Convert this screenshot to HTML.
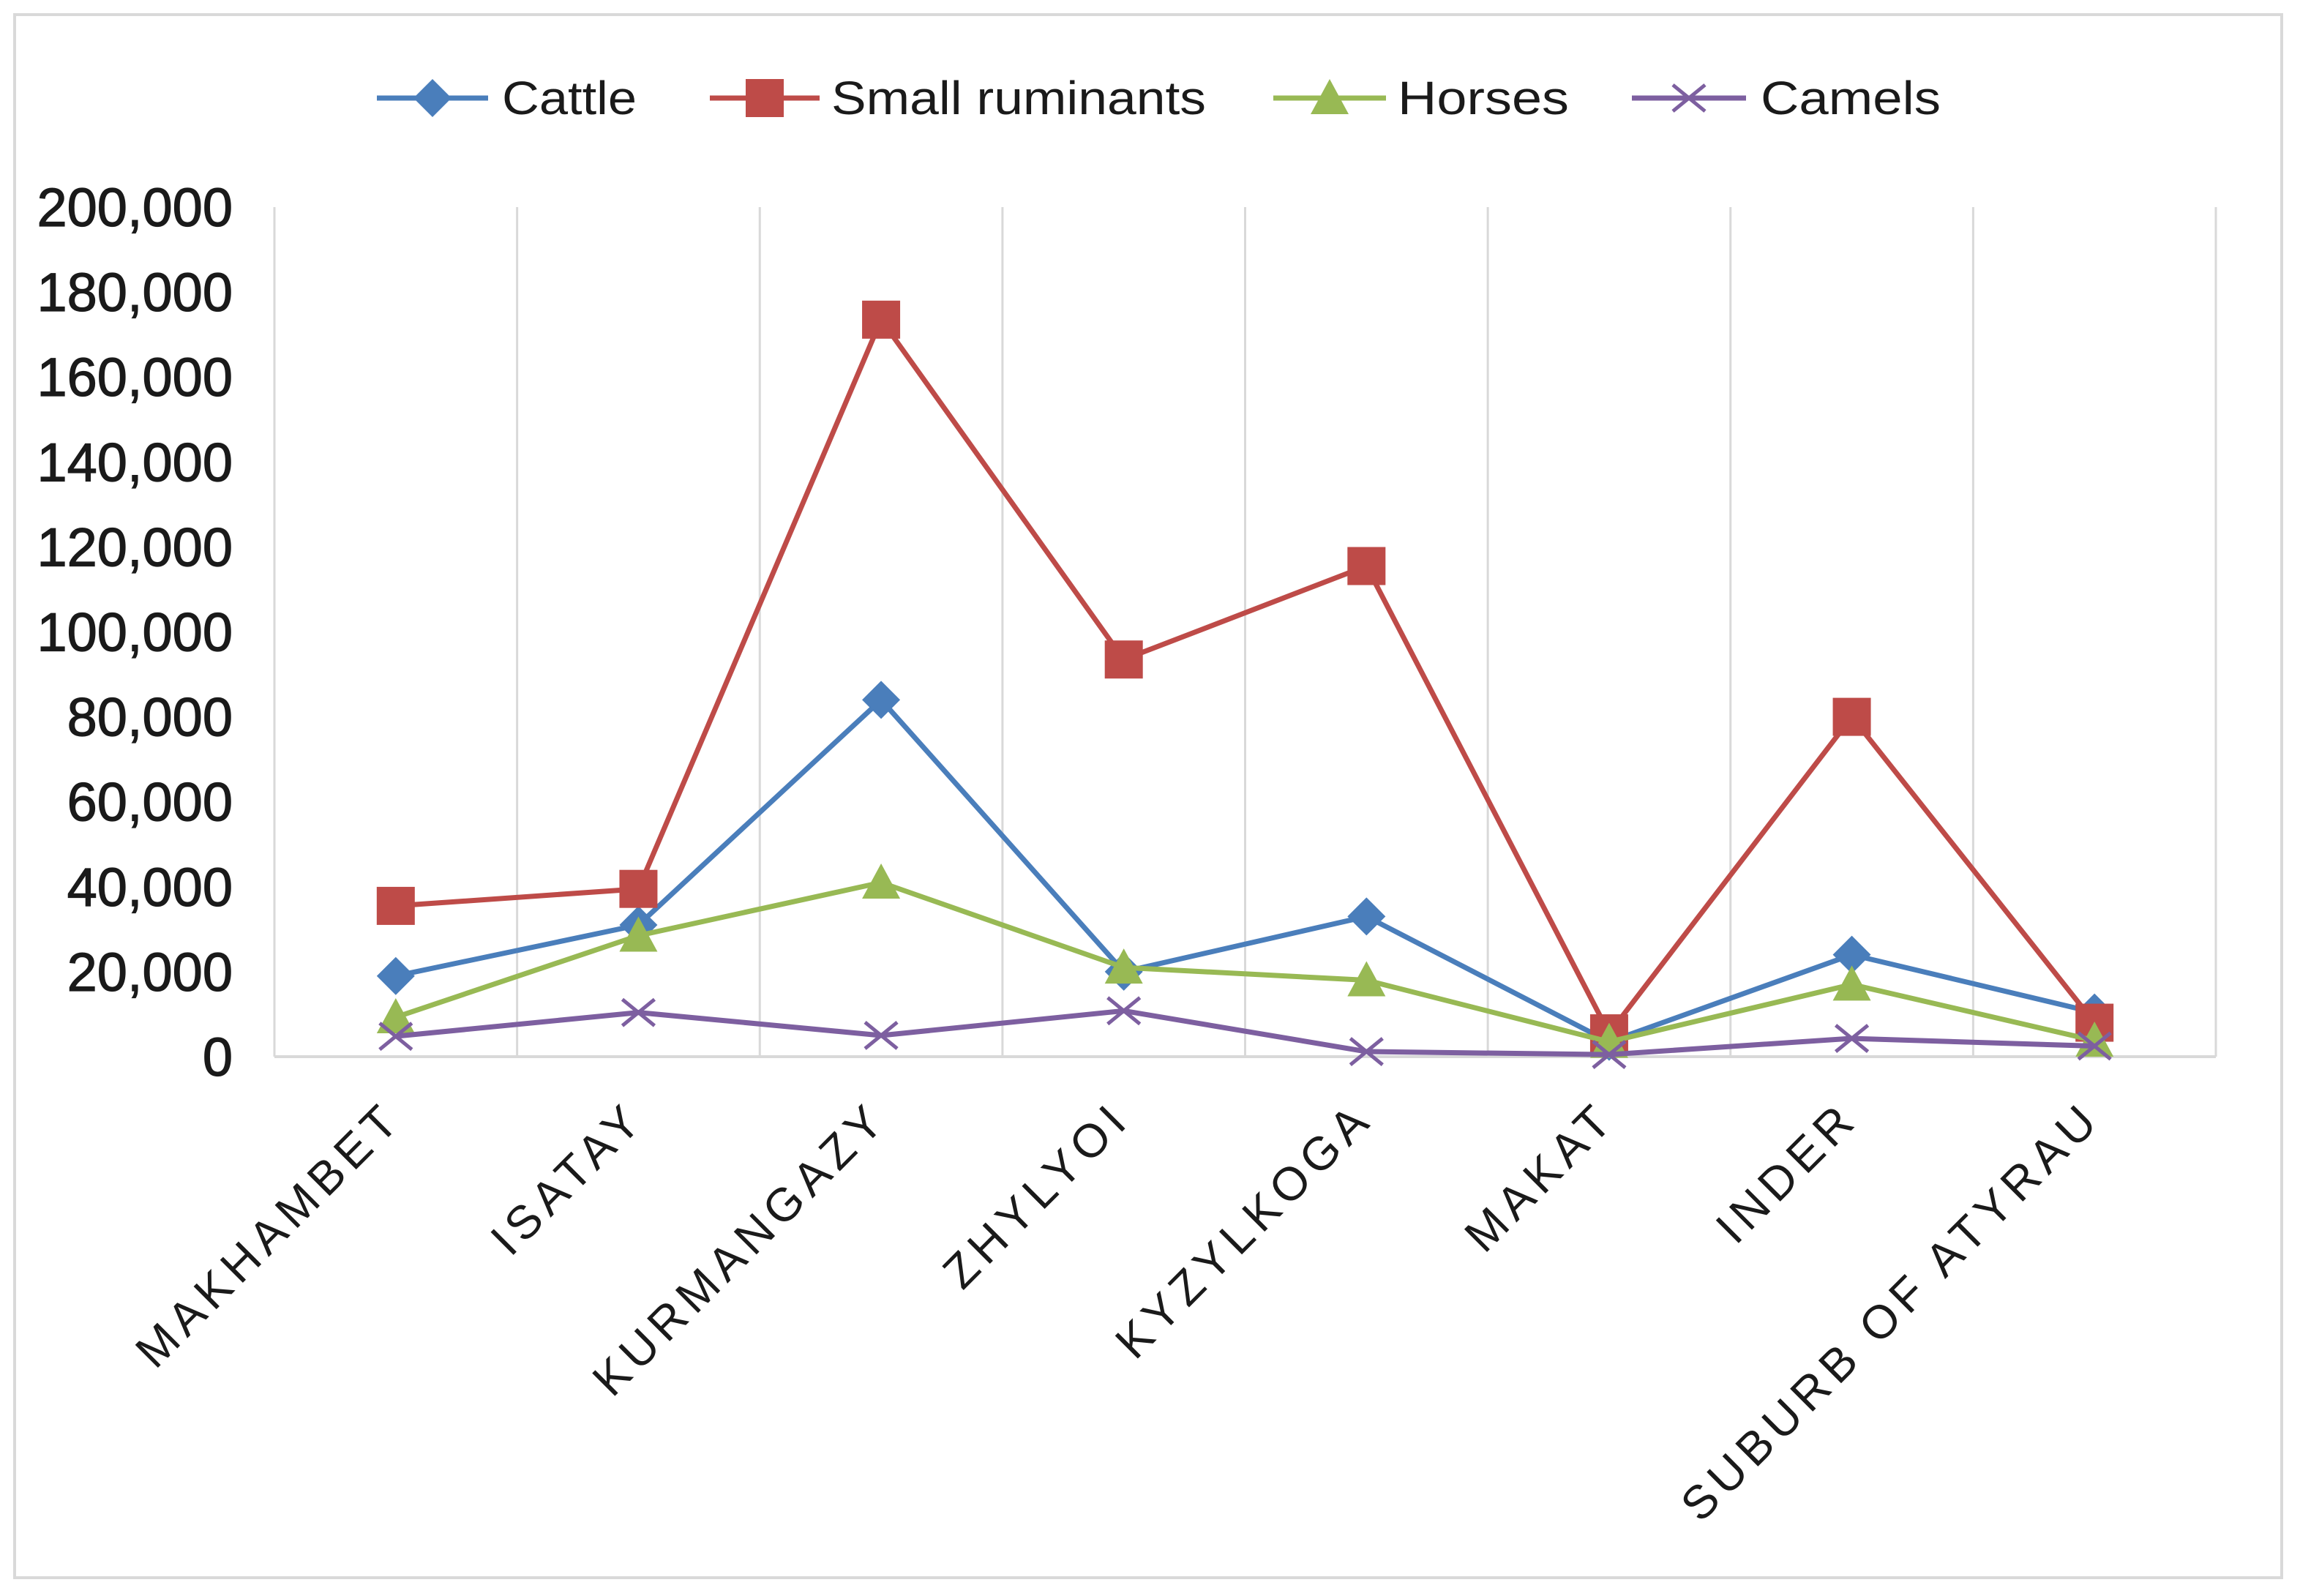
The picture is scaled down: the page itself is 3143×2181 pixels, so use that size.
<!DOCTYPE html>
<html><head><meta charset="utf-8"><style>
html,body{margin:0;padding:0;background:#fff;}
svg{display:block;font-family:"Liberation Sans",Arial,sans-serif;}
</style></head><body>
<svg id="chart" width="3143" height="2181" viewBox="0 0 3143 2181" xmlns="http://www.w3.org/2000/svg">
<rect x="20" y="20" width="3098" height="2136" fill="#fff" stroke="#d9d9d9" stroke-width="4"/>
<g id="grid"></g>
<g id="yticks"></g>
<g id="xticks"></g>
<g id="series"></g>
<g id="legend"></g>
</svg>
<script>
const categories = ["MAKHAMBET","ISATAY","KURMANGAZY","ZHYLYOI","KYZYLKOGA","MAKAT","INDER","SUBURB OF ATYRAU"];
const cattle = [19000,31000,84000,20000,33000,3500,24000,10400];
const smallRuminants = [35500,39500,173500,93500,115500,5500,80000,8000];
const horses = [9300,28500,41000,21000,18000,3500,17000,3800];
const camels = [4800,10400,5000,10800,1200,500,4300,2500];
const yTicks = [0,20000,40000,60000,80000,100000,120000,140000,160000,180000,200000];
const seriesNames = ["Cattle","Small ruminants","Horses","Camels"];

const NS="http://www.w3.org/2000/svg";
const L=375,R=3028,T=283,B=1444,YMAX=200000;
const band=(R-L)/categories.length;
function xs(i){return L+band*(i+0.5);}
function ys(v){return B-(v/YMAX)*(B-T);}
function mk(tag,attrs,parent){const e=document.createElementNS(NS,tag);for(const k in attrs)e.setAttribute(k,attrs[k]);parent.appendChild(e);return e;}
const grid=document.getElementById('grid'),yt=document.getElementById('yticks'),xt=document.getElementById('xticks'),sg=document.getElementById('series'),lg=document.getElementById('legend');

for(let i=0;i<=categories.length;i++){
  const x=L+band*i;
  const g=mk('line',{x1:x,x2:x,y1:T,y2:B,stroke:'#d9d9d9','stroke-width':3},grid);
  
  
}
const ax=mk('line',{x1:L,x2:R,y1:B,y2:B,stroke:'#d9d9d9','stroke-width':4},grid);



yTicks.forEach(v=>{
  const t=mk('text',{x:318,y:ys(v)+26,'text-anchor':'end','font-size':74,fill:'#1a1a1a',stroke:'#1a1a1a','stroke-width':1.2},yt);
  t.textContent=v.toLocaleString('en-US');
  
  
});
categories.forEach((c,i)=>{
  const x=xs(i)+12,y=1532;
  const t=mk('text',{x:x,y:y,'text-anchor':'end','font-size':64,'letter-spacing':8.5,fill:'#1a1a1a',transform:`rotate(-45 ${x} ${y})`},xt);
  t.textContent=c;
  
  
});

const colors=["#4a7ebb","#be4b48","#98b954","#7d5fa0"];
const data=[cattle,smallRuminants,horses,camels];
function marker(k,x,y,parent){
  let m;
  if(k===0) m=mk('path',{d:`M${x} ${y-26}L${x+26} ${y}L${x} ${y+26}L${x-26} ${y}Z`,fill:colors[0]},parent);
  else if(k===1) m=mk('rect',{x:x-26,y:y-26,width:52,height:52,fill:colors[1]},parent);
  else if(k===2) m=mk('path',{d:`M${x} ${y-26}L${x+26} ${y+22}L${x-26} ${y+22}Z`,fill:colors[2]},parent);
  else m=mk('path',{d:`M${x-22} ${y-18}L${x+22} ${y+18}M${x-22} ${y+18}L${x+22} ${y-18}`,stroke:colors[3],'stroke-width':5,fill:'none'},parent);
  return m;
}
data.forEach((arr,k)=>{
  const g=mk('g',{},sg);
  
  
  const pl=mk('polyline',{points:arr.map((v,i)=>xs(i)+','+ys(v)).join(' '),fill:'none',stroke:colors[k],'stroke-width':7,'stroke-linejoin':'round'},g);
  
  
  arr.forEach((v,i)=>{
    const m=marker(k,xs(i),ys(v),g);
    
    
  });
});

const legX=[[515,667,686,184],[970,1120,1136,512],[1740,1894,1910,234],[2230,2386,2406,246]];
seriesNames.forEach((n,k)=>{
  const g=mk('g',{},lg);
  
  
  const [x1,x2,tx,tw]=legX[k];
  mk('line',{x1:x1,x2:x2,y1:134,y2:134,stroke:colors[k],'stroke-width':7},g);
  marker(k,(x1+x2)/2,134,g);
  const t=mk('text',{x:tx,y:156,'font-size':64,fill:'#1a1a1a',textLength:tw,lengthAdjust:'spacingAndGlyphs'},g);
  t.textContent=n;
});
</script>
</body></html>
